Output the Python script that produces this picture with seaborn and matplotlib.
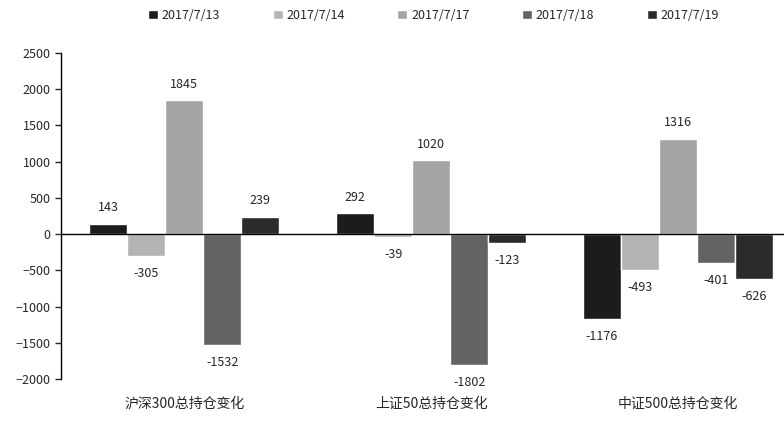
import pandas as pd
import matplotlib.pyplot as plt
import seaborn as sns

categories = ["沪深300总持仓变化", "上证50总持仓变化", "中证500总持仓变化"]
dates = ["2017/7/13", "2017/7/14", "2017/7/17", "2017/7/18", "2017/7/19"]
v_0713 = [143, 292, -1176]
v_0714 = [-305, -39, -493]
v_0717 = [1845, 1020, 1316]
v_0718 = [-1532, -1802, -401]
v_0719 = [239, -123, -626]
colors = ["#1c1c1c", "#b3b3b3", "#a5a5a5", "#636363", "#2b2b2b"]

series = [v_0713, v_0714, v_0717, v_0718, v_0719]
rows = []
for d, vals in zip(dates, series):
    for c, v in zip(categories, vals):
        rows.append({"cat": c, "date": d, "val": v})
df = pd.DataFrame(rows)

sns.set_style("white")
plt.rcParams['font.family'] = ['Noto Sans CJK SC', 'DejaVu Sans']
plt.rcParams['font.size'] = 9

fig = plt.figure(figsize=(7.84, 4.22), dpi=100)
ax = fig.add_axes([61 / 784, 1 - 379 / 422, 723 / 784, 326 / 422])

sns.barplot(data=df, x="cat", y="val", hue="date", order=categories,
            hue_order=dates, palette=colors, width=0.77, ax=ax,
            saturation=1, legend=True)

# 数值标签：正值在柱顶上方，负值在柱底下方
for cont in ax.containers:
    for bar in cont:
        h = bar.get_height()
        x = bar.get_x() + bar.get_width() / 2
        if h >= 0:
            ax.text(x, h + 130, f"{int(round(h))}", ha="center", va="bottom", fontsize=9)
        else:
            ax.text(x, h - 150, f"{int(round(h))}", ha="center", va="top", fontsize=9)

ax.set_ylim(-2000, 2500)
ax.set_yticks(range(-2000, 2501, 500))
ax.set_xlim(-0.5, 2.43)
ax.axhline(0, color="black", lw=1)
for s in ["top", "right", "bottom"]:
    ax.spines[s].set_visible(False)
ax.spines["left"].set_color("black")
ax.spines["left"].set_linewidth(1)
ax.tick_params(axis="y", direction="out", length=4, width=1, left=True, labelsize=9)
ax.tick_params(axis="x", length=0, pad=13, labelsize=10)
ax.set_xlabel("")
ax.set_ylabel("")

ax.legend(loc="upper center", bbox_to_anchor=(0.515, 1.17), ncol=5, frameon=False,
          handlelength=0.8, handleheight=0.8, handletextpad=0.3, columnspacing=4.2,
          fontsize=9)

fig.savefig("out.png", dpi=100)
